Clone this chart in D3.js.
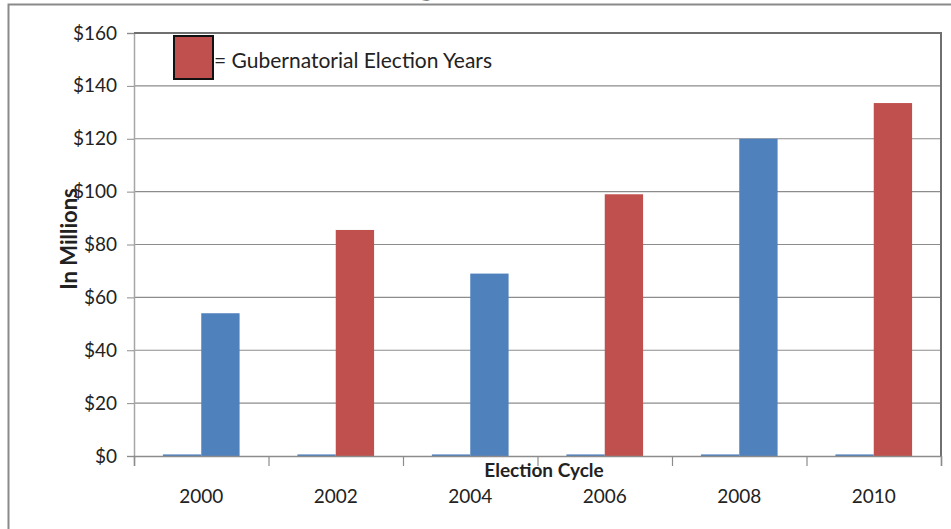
<!DOCTYPE html>
<html>
<head>
<meta charset="utf-8">
<script src="https://cdn.jsdelivr.net/npm/d3@7"></script>
<style>
  body { margin: 0; background: #fff; }
  #chart { width: 951px; height: 529px; }
  text { font-family: Lato, "Liberation Sans", sans-serif; fill: #222; }
</style>
</head>
<body>
<div id="chart"></div>
<script>
// chart values
const years = ["2000", "2002", "2004", "2006", "2008", "2010"];
const smallSeries = [0.6, 0.6, 0.6, 0.6, 0.6, 0.6];
const spending = [54, 85.5, 69, 99, 120, 133.5];
const gubernatorial = [false, true, false, true, false, true];
const yTicks = [0, 20, 40, 60, 80, 100, 120, 140, 160];

const width = 951;
const height = 529;
const margin = {top: 33, left: 134, right: 10, bottom: 73};

const svg = d3.select("#chart")
    .append("svg")
    .attr("width", width)
    .attr("height", height);

/*
TITLE (mostly cut off at the top of the picture)
*/
svg.append("text")
    .attr("x", 272)
    .attr("y", -7.5)
    .style("font-weight", "bold")
    .style("font-size", "40px")
    .text("Spending by Election Cycle");

// outer frame
svg.append("path")
    .attr("d", `M${width},4.5 H8.5 V${height}`)
    .attr("fill", "none")
    .attr("stroke", "#8a8a8a")
    .attr("stroke-width", 2);

/*
SCALES
*/
const xScale = d3.scaleBand()
    .domain(years)
    .range([margin.left, width - margin.right])
    .padding(0);

const xInner = d3.scaleBand()
    .domain(["small", "main"])
    .range([xScale.bandwidth() * 0.215, xScale.bandwidth() * 0.785]);

const yScale = d3.scaleLinear()
    .domain([0, 160])
    .range([height - margin.bottom, margin.top]);

const edgeScale = d3.scaleLinear()
    .domain([0, years.length])
    .range([margin.left, width - margin.right]);

/*
GRID + Y AXIS
*/
svg.append("g")
    .selectAll("line")
    .data(yTicks.slice(1))
    .enter()
    .append("line")
        .attr("x1", margin.left)
        .attr("x2", width - margin.right)
        .attr("y1", d => yScale(d))
        .attr("y2", d => yScale(d))
        .attr("stroke", "#8c8c8c")
        .attr("stroke-width", 1.2);

const yAxis = svg.append("g")
    .attr("transform", `translate(${margin.left},0)`)
    .call(d3.axisLeft(yScale).tickValues(yTicks).tickSize(7).tickPadding(10)
        .tickFormat(d => "$" + d));
yAxis.select(".domain").attr("stroke", "#a6a6a6").attr("stroke-width", 1.5);
yAxis.selectAll(".tick line").attr("stroke", "#8c8c8c");
yAxis.selectAll("text").style("font-size", "19px").attr("fill", "#2a2a2a");

// top and right border of plot area
svg.append("path")
    .attr("d", `M${margin.left},${margin.top} H${width - margin.right} V${height - margin.bottom}`)
    .attr("fill", "none")
    .attr("stroke", "#707070")
    .attr("stroke-width", 2);

/*
BARS
*/
const groups = svg.selectAll(".year")
    .data(years)
    .enter()
    .append("g")
        .attr("class", "year")
        .attr("transform", d => `translate(${xScale(d)},0)`);

groups.append("rect")
    .attr("x", xInner("small"))
    .attr("width", xInner.bandwidth())
    .attr("y", (d, i) => yScale(smallSeries[i]))
    .attr("height", (d, i) => yScale(0) - yScale(smallSeries[i]))
    .attr("fill", "#4f81bd");

groups.append("rect")
    .attr("x", xInner("main"))
    .attr("width", xInner.bandwidth())
    .attr("y", (d, i) => yScale(spending[i]))
    .attr("height", (d, i) => yScale(0) - yScale(spending[i]))
    .attr("fill", (d, i) => gubernatorial[i] ? "#c0504d" : "#4f81bd");

/*
X AXIS
*/
const xAxis = svg.append("g")
    .attr("transform", `translate(0,${height - margin.bottom})`)
    .call(d3.axisBottom(edgeScale).tickValues(d3.range(years.length + 1)).tickSize(10).tickFormat(""));
xAxis.select(".domain").attr("stroke", "#8c8c8c").attr("stroke-width", 1.5);
xAxis.selectAll(".tick line").attr("stroke", "#8c8c8c").attr("stroke-width", 1.2);

svg.append("g")
    .selectAll("text")
    .data(years)
    .enter()
    .append("text")
        .attr("x", d => xScale(d) + xScale.bandwidth() / 2)
        .attr("y", 503)
        .attr("text-anchor", "middle")
        .style("font-size", "19px")
        .attr("fill", "#2a2a2a")
        .text(d => d);

/*
AXIS LABELS
*/
svg.append("text")
    .attr("x", 544)
    .attr("y", 477)
    .attr("text-anchor", "middle")
    .style("font-weight", "bold")
    .style("font-size", "19px")
    .attr("fill", "#111")
    .text("Election Cycle");

svg.append("text")
    .attr("transform", "rotate(-90)")
    .attr("x", -239)
    .attr("y", 77)
    .attr("text-anchor", "middle")
    .style("font-weight", "bold")
    .style("font-size", "22px")
    .attr("fill", "#111")
    .text("In Millions");

/*
LEGEND
*/
svg.append("rect")
    .attr("x", 174)
    .attr("y", 36)
    .attr("width", 39)
    .attr("height", 43)
    .attr("fill", "#c0504d")
    .attr("stroke", "#111")
    .attr("stroke-width", 2);

svg.append("text")
    .attr("x", 214)
    .attr("y", 68)
    .style("font-size", "21px")
    .attr("fill", "#2a2a2a")
    .text("= Gubernatorial Election Years");
</script>
</body>
</html>
